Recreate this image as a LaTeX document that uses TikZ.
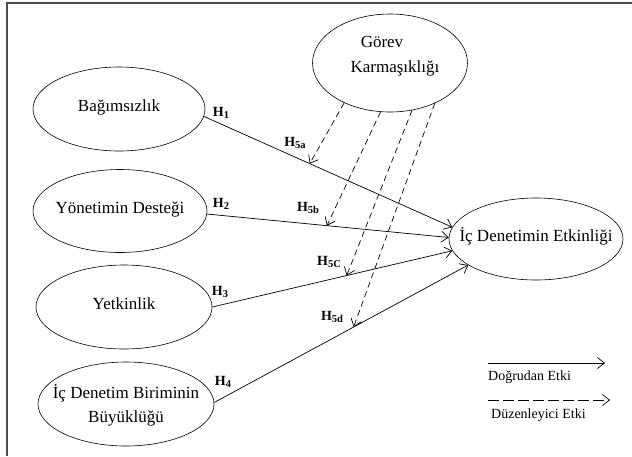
\documentclass[tikz,border=0pt]{standalone}
\usepackage{fontspec}
\setmainfont{Liberation Serif}
\usetikzlibrary{arrows.meta,shapes.geometric}
\newcommand{\Hlab}[1]{\textbf{H\raisebox{-2.5pt}{\fontsize{10.5}{12}\selectfont #1}}}
\begin{document}
\begin{tikzpicture}[x=1pt,y=-1pt,
  var/.style={draw, ellipse, inner sep=0pt, line width=0.6pt},
  txt/.style={font=\fontsize{17}{24}\selectfont, align=center, inner sep=0pt, text height=0.75em, text depth=0.2em},
  txtm/.style={font=\fontsize{17}{24}\selectfont, align=center, inner sep=0pt},
  hl/.style={font=\fontsize{14}{16}\selectfont, inner sep=0pt},
  eff/.style={line width=0.7pt, -{Straight Barb[length=7pt,width=11pt]}},
  mod/.style={eff, dash pattern=on 6pt off 4pt},
  legmod/.style={eff, dash pattern=on 11pt off 4pt},
  leg/.style={font=\fontsize{14}{16}\selectfont, inner sep=0pt, anchor=west}]
\useasboundingbox (0,0) rectangle (632,456);
\draw[line width=1.4pt, black!70] (7,456) -- (7,3) -- (632,3);

% ellipses
\node[var, minimum width=172pt, minimum height=84pt, label={[txt]center:Bağımsızlık}] (bag) at (119,109) {};
\node[var, minimum width=174pt, minimum height=83pt, label={[txt]center:Yönetimin Desteği}] (yon) at (120,211) {};
\node[var, minimum width=176pt, minimum height=84pt, label={[txt]center:Yetkinlik}] (yet) at (124,307) {};
\node[var, minimum width=176pt, minimum height=84pt, label={[txtm, yshift=-1pt]center:{İç Denetim Biriminin\\Büyüklüğü}}] (buy) at (126,404) {};
\node[var, minimum width=174pt, minimum height=82pt, label={[txt]center:İç Denetimin Etkinliği}] (etk) at (536,239) {};
\node[var, minimum width=155pt, minimum height=98pt] (gor) at (390,63) {};
\node[txt] (gor1) at (382,45) {Görev};
\node[txt] (gor2) at (395,70) {Karmaşıklığı};

% direct effects
\draw[eff] (bag.-5) -- (etk.172);
\draw[eff] (yon.-2) -- (etk.179);
\draw[eff] (yet.0) -- (etk.188);
\draw[eff] (buy.1) -- (etk.201);

% tips of moderating arrows, on the direct paths
\path (bag.-5) -- (etk.172) coordinate[pos=0.426] (t5a);
\path (yon.-2) -- (etk.179) coordinate[pos=0.496] (t5b);
\path (yet.0) -- (etk.188) coordinate[pos=0.56] (t5c);
\path (buy.1) -- (etk.201) coordinate[pos=0.549] (t5d);

% moderating effects
\draw[mod] (gor.221) -- (t5a);
\draw[mod] (gor.259) -- (t5b);
\draw[mod] (gor.295) -- (t5c);
\draw[mod] (gor.318) -- (t5d);

% hypothesis labels
\node[hl] (h1) at (221,113) {\Hlab{1}};
\node[hl] (h2) at (221,204) {\Hlab{2}};
\node[hl] (h3) at (220,292) {\Hlab{3}};
\node[hl] (h4) at (223,382) {\Hlab{4}};
\node[hl] (h5a) at (295,143) {\Hlab{5a}};
\node[hl] (h5b) at (308,208) {\Hlab{5b}};
\node[hl] (h5c) at (329,262) {\Hlab{5C}};
\node[hl] (h5d) at (332,317) {\Hlab{5d}};

% legend
\coordinate (la1) at (488,363);
\coordinate (la2) at (605,363);
\coordinate (lb1) at (488,400);
\coordinate (lb2) at (610,400);
\draw[eff] (la1) -- (la2);
\draw[legmod] (lb1) -- (lb2);
\node[leg] (lt1) at (488,377) {Doğrudan Etki};
\node[leg] (lt2) at (491,415) {Düzenleyici Etki};
\end{tikzpicture}
\end{document}
